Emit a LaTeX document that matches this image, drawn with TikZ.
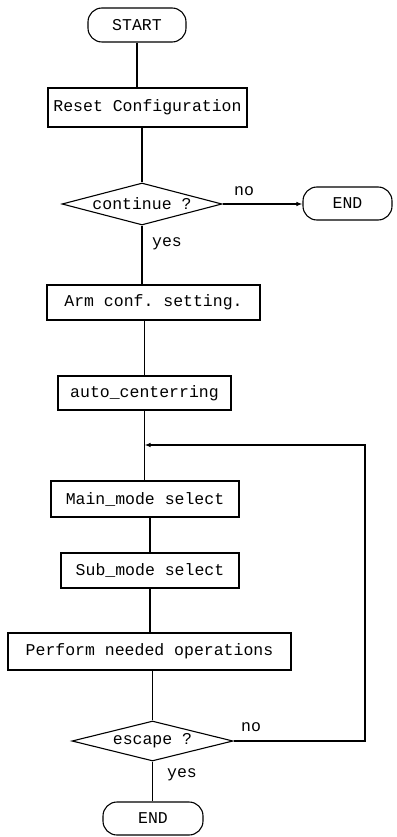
\documentclass[tikz,border=0pt]{standalone}
\usepackage{fontspec}
\setmonofont{Liberation Mono}
\usetikzlibrary{shapes.geometric,arrows.meta}
\begin{document}
\begin{tikzpicture}[x=1pt,y=-1pt,
  every node/.style={font=\ttfamily\fontsize{16.5}{18}\selectfont},
  procbox/.style={draw,line width=1.1pt,inner sep=0pt,rectangle},
  termbox/.style={draw,line width=1.1pt,rounded corners=14pt,inner sep=0pt},
  decbox/.style={draw,line width=1.1pt,diamond,aspect=4,inner sep=0pt},
  flow/.style={line width=1.1pt},
  flowarrow/.style={flow,-{Latex[length=6pt,width=4.5pt]}},
  lbl/.style={inner sep=0pt,anchor=base}]
\useasboundingbox (0,0) rectangle (396,837);

% terminals
\node[termbox,minimum width=98pt,minimum height=34pt] (start) at (137,25) {START};
\node[termbox,minimum width=89pt,minimum height=33pt] (end1) at (347.5,203.5) {END};
\node[termbox,minimum width=100pt,minimum height=33pt] (end2) at (153,818.5) {END};

% processing steps
\node[procbox,minimum width=199pt,minimum height=39pt] (reset) at (147.5,107.5) {Reset Configuration};
\node[procbox,minimum width=213pt,minimum height=35pt] (arm) at (153.5,302.5) {Arm conf. setting.};
\node[procbox,minimum width=173pt,minimum height=34pt] (auto) at (144.5,393) {auto\_centerring};
\node[procbox,minimum width=188pt,minimum height=36pt] (main) at (145,499) {Main\_mode select};
\node[procbox,minimum width=178pt,minimum height=35pt] (sub) at (150,570.5) {Sub\_mode select};
\node[procbox,minimum width=283pt,minimum height=37pt] (perf) at (149.5,651.5) {Perform needed operations};

% decisions
\node[decbox,minimum width=160pt,minimum height=42pt] (cont) at (142,204) {continue ?};
\node[decbox,minimum width=161pt,minimum height=40pt] (esc) at (152.5,741) {escape ?};

% connectors
\draw[flow] (start.south) -- (start.south |- reset.north);
\draw[flow] (cont.north |- reset.south) -- (cont.north);
\draw[flow] (cont.south) -- (cont.south |- arm.north);
\draw[flow] (auto.north |- arm.south) -- (auto.north);
\draw[flow] (auto.south) -- (auto.south |- main.north);
\draw[flow] (sub.north |- main.south) -- (sub.north);
\draw[flow] (sub.south) -- (sub.south |- perf.north);
\draw[flow] (esc.north |- perf.south) -- (esc.north);
\draw[flow] (esc.south) -- (esc.south |- end2.north);
\draw[flowarrow] (cont.east) -- (cont.east -| end1.west);

% loop back from the escape test
\coordinate (loopc) at (365,445);
\coordinate (join) at (auto.south |- loopc);
\draw[flowarrow] (esc.east) -| (loopc) -- (join);

% branch labels
\node[lbl] (no1) at (244,195) {no};
\node[lbl] (yes1) at (167,246) {yes};
\node[lbl] (no2) at (251,731) {no};
\node[lbl] (yes2) at (182,777) {yes};
\end{tikzpicture}
\end{document}
